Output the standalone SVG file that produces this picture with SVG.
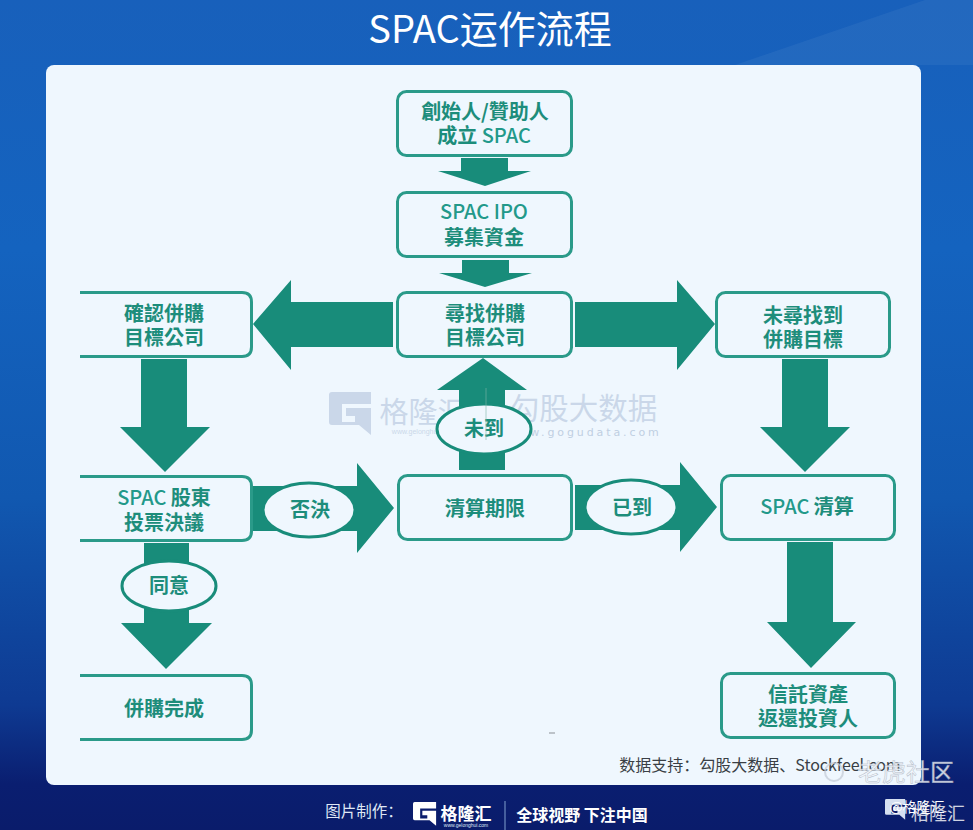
<svg xmlns="http://www.w3.org/2000/svg" width="973" height="830" viewBox="0 0 973 830">
<style>
text{font-family:"Noto Sans CJK TC","Noto Sans CJK SC","Noto Sans",sans-serif}
.sc{font-family:"Noto Sans CJK SC",sans-serif}
.box{fill:#eff7fe;stroke:#2a9a89;stroke-width:3}
.t{fill:#1d8d7b;font-size:20px;font-weight:700;text-anchor:middle}
.lat{fill:#22998a;font-weight:500}
.ar{fill:#188c7a}
.el{fill:#eff7fe;stroke:#188c7a;stroke-width:3}
.wm{fill:#cad7e9;text-anchor:middle}
.wm2{fill:#bfcfe2;text-anchor:middle}
.ft{fill:#dfe7f5;text-anchor:middle}
</style>
<defs>
<linearGradient id="bg" x1="0" y1="0" x2="0" y2="1">
<stop offset="0" stop-color="#1860bb"/><stop offset="0.3" stop-color="#1463bf"/><stop offset="0.6" stop-color="#1158b0"/><stop offset="0.85" stop-color="#0e3a92"/><stop offset="0.945" stop-color="#0a1e70"/><stop offset="1" stop-color="#0a1c6b"/>
</linearGradient>
<path id="g" d="M0 3 Q0 0 3 0 H42 V12 H13 V30 H26 V24 H17 V16 H42 V43 L30 33 H3 Q0 33 0 30 Z"/>
</defs>
<rect width="973" height="830" fill="url(#bg)"/>
<path d="M735 65 L925 0 H973 V65 Z" fill="#fff" opacity=".05"/>
<text class="sc" x="490" y="43" fill="#fff" font-size="38" font-weight="400" text-anchor="middle">SPAC运作流程</text>
<rect id="panel" x="46" y="65" width="875" height="720" rx="8" fill="#eff7fe"/>

<g id="watermark">
<use href="#g" x="329" y="392" fill="#cad7e9"/>
<text class="wm sc" x="423" y="423" font-size="29">格隆汇</text>
<text class="wm" x="423" y="434" font-size="7" style="font-family:'Liberation Sans',sans-serif">www.gelonghui.com</text>
<text class="wm sc" x="583.500" y="419" font-size="29.500">勾股大数据</text>
<text class="wm2" x="584" y="436" font-size="11" letter-spacing="2.900" style="font-family:'DejaVu Sans',sans-serif">www.gogudata.com</text>
</g>

<g id="connectors">
<path class="ar" d="M461 158H508V171H531L485 186L438 171H461Z"/>
<path class="ar" d="M462 260H509V273H532L485 287L439 273H462Z"/>
<path class="ar" d="M393 302V347H291V370L253 324L291 280V302Z"/>
<path class="ar" d="M575 302H677V280L715 324L677 370V347H575Z"/>
<path class="ar" d="M459 470V390H437L483 358L527 390H505V470Z"/>
<path class="ar" d="M141 359H187V427H210L165 472L120 427H141Z"/>
<path class="ar" d="M782 359H828V427H850L805 472L760 427H782Z"/>
<path class="ar" d="M253 486H357V463L394 508L357 553V531H253Z"/>
<path class="ar" d="M575 485H680V462L717 507L680 552V530H575Z"/>
<path class="ar" d="M144 543H189V623H212L166 669L121 623H144Z"/>
<path class="ar" d="M787 542H833V622H856L811 668L767 622H787Z"/>
<ellipse class="el" cx="484" cy="429" rx="47" ry="25"/>
<ellipse class="el" cx="309" cy="510" rx="46" ry="27"/>
<ellipse class="el" cx="631" cy="507" rx="46" ry="27"/>
<ellipse class="el" cx="169" cy="586" rx="47" ry="25"/>
<text class="t" x="484" y="436">未到</text>
<text class="t" x="310" y="517">否決</text>
<text class="t" x="632" y="515">已到</text>
<text class="t" x="169" y="593">同意</text>
</g>

<g id="n1"><rect class="box" x="397.500" y="91.500" width="174" height="64" rx="9"/><text class="t" x="485" y="119">創始人/贊助人</text><text class="t" x="484" y="143">成立 <tspan class="lat">SPAC</tspan></text></g>
<g id="n2"><rect class="box" x="397.500" y="192.500" width="174" height="64" rx="9"/><text class="t lat" x="484" y="219">SPAC IPO</text><text class="t" x="484" y="245">募集資金</text></g>
<g id="n3"><rect class="box" x="397.500" y="292.500" width="174" height="64" rx="9"/><text class="t" x="485" y="321">尋找併購</text><text class="t" x="485" y="345">目標公司</text></g>
<g id="n4"><path class="box" d="M80 292.500H242Q251.500 292.500 251.500 302V347Q251.500 356.500 242 356.500H80"/><text class="t" x="164" y="321">確認併購</text><text class="t" x="164" y="345">目標公司</text></g>
<g id="n5"><rect class="box" x="716.500" y="292.500" width="173" height="64" rx="9"/><text class="t" x="803" y="323">未尋找到</text><text class="t" x="803" y="347">併購目標</text></g>
<g id="n6"><path class="box" d="M80 476.500H242Q251.500 476.500 251.500 486V531Q251.500 540.500 242 540.500H80"/><text class="t" x="164" y="505"><tspan class="lat">SPAC</tspan> 股東</text><text class="t" x="164" y="530">投票決議</text></g>
<g id="n7"><rect class="box" x="398.500" y="475.500" width="173" height="64" rx="9"/><text class="t" x="485" y="516">清算期限</text></g>
<g id="n8"><rect class="box" x="721.500" y="475.500" width="173" height="64" rx="9"/><text class="t" x="807" y="514"><tspan class="lat">SPAC</tspan> 清算</text></g>
<g id="n9"><path class="box" d="M80 675.500H242Q251.500 675.500 251.500 685V730Q251.500 739.500 242 739.500H80"/><text class="t" x="164" y="716">併購完成</text></g>
<g id="n10"><rect class="box" x="721.500" y="673.500" width="173" height="64" rx="9"/><text class="t" x="808" y="702">信託資產</text><text class="t" x="808" y="726">返還投資人</text></g>

<line x1="486" y1="388" x2="486" y2="440" stroke="#7fb5a9" stroke-width="1" opacity="0.6"/>
<line x1="549" y1="733" x2="555" y2="733" stroke="#8a8f95" stroke-width="1"/>
<text class="sc" x="760" y="771" fill="#3a3f45" font-size="16" text-anchor="middle">数据支持：勾股大数据、Stockfeel.com</text>

<g id="footer">
<text class="ft sc" x="364" y="817" font-size="15.500">图片制作：</text>
<use href="#g" transform="translate(413 802) scale(.55)" fill="#fff"/>
<text class="sc" x="466" y="820" fill="#fff" font-size="17" text-anchor="middle" font-weight="700">格隆汇</text>
<text x="466" y="827" fill="#dfe7f5" font-size="5" text-anchor="middle" style="font-family:'Liberation Sans',sans-serif">www.gelonghui.com</text>
<line x1="505" y1="801" x2="505" y2="830" stroke="#5a74ae" stroke-width="1.500"/>
<text class="sc" x="582" y="821" fill="#fff" font-size="16" font-weight="700" text-anchor="middle">全球视野 下注中国</text>
</g>
<g id="stamps">
<circle cx="834" cy="772" r="9" fill="none" stroke="#c3cbd6" stroke-width="2" opacity=".7"/>
<text class="sc" x="906" y="781" fill="#f4f7fc" stroke="#aab3c0" stroke-width=".5" opacity=".85" font-size="24" text-anchor="middle">老虎社区</text>
<use href="#g" transform="translate(885 799) scale(.48)" fill="#d5dff0"/>
<text class="sc" x="938" y="820" fill="#fff" opacity=".8" font-size="18" text-anchor="middle">格隆汇</text>
<text class="sc" x="917" y="812" fill="#fff" font-size="14" text-anchor="middle">@格隆汇</text>
</g>
</svg>
